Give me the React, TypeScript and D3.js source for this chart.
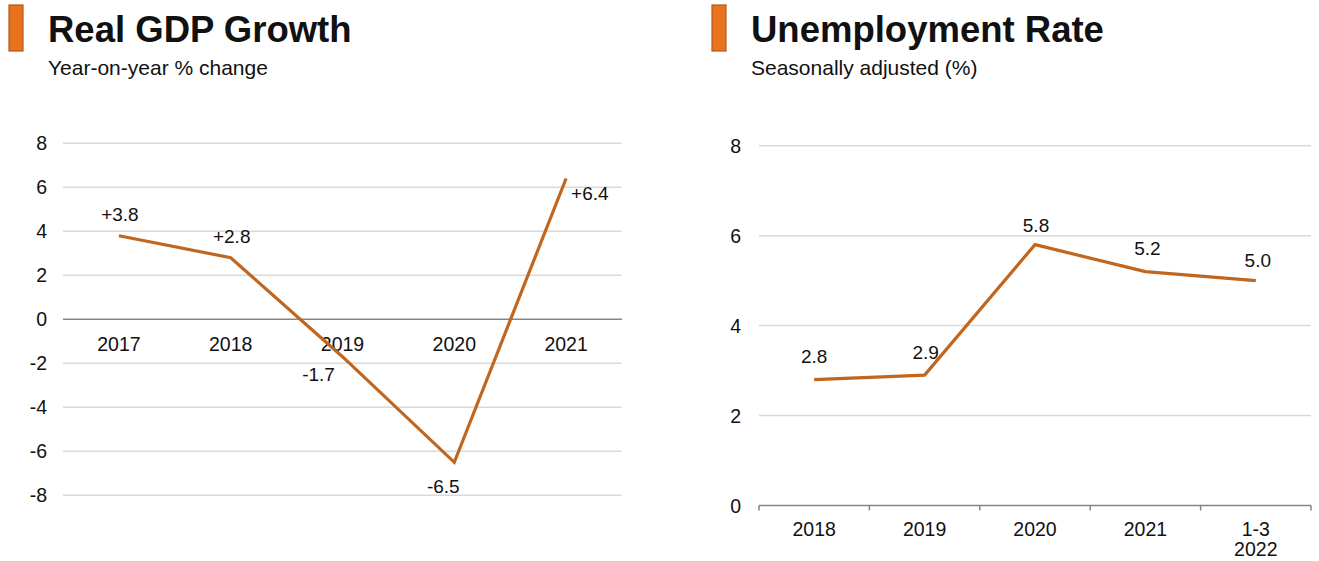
import React from "react";
import * as d3 from "d3";

// ---------- data ----------
const gdpYears = ["2017", "2018", "2019", "2020", "2021"];
const gdpValues = [3.8, 2.8, -1.7, -6.5, 6.4];
const gdpLabels = ["+3.8", "+2.8", "-1.7", "-6.5", "+6.4"];
const gdpTicks = [8, 6, 4, 2, 0, -2, -4, -6, -8];

const unempCats = [["2018"], ["2019"], ["2020"], ["2021"], ["1-3", "2022"]];
const unempValues = [2.8, 2.9, 5.8, 5.2, 5.0];
const unempLabels = ["2.8", "2.9", "5.8", "5.2", "5.0"];
const unempTicks = [8, 6, 4, 2, 0];

// label placement (style)
const gdpLabelPlace = [
  { dx: 1, dy: -15, anchor: "middle" },
  { dx: 1, dy: -15, anchor: "middle" },
  { dx: -24, dy: 24, anchor: "middle" },
  { dx: -11, dy: 31, anchor: "middle" },
  { dx: 5, dy: 21, anchor: "start" },
];
const unempLabelPlace = [
  { dx: 0, dy: -17 },
  { dx: 1, dy: -16 },
  { dx: 1, dy: -13 },
  { dx: 2, dy: -17 },
  { dx: 2, dy: -13.5 },
];

const FONT = "'Liberation Sans', Arial, Helvetica, sans-serif";
const LINE = "#c0661f";
const GRID = "#d9d9d9";
const AXIS = "#858585";

function Header({ x, title, sub }: { x: number; title: string; sub: string }) {
  return (
    <g>
      <rect x={x} y={5} width={14} height={46} fill="#e8731c" stroke="#b4581a" strokeWidth={1.2} />
      <text x={x + 39} y={42} fontFamily={FONT} fontWeight="bold" fontSize={36.5} fill="#111">
        {title}
      </text>
      <text x={x + 39} y={75} fontFamily={FONT} fontSize={21} fill="#111">
        {sub}
      </text>
    </g>
  );
}

export default function App() {
  // left chart
  const lx = d3.scaleBand<string>().domain(gdpYears).range([63, 622]);
  const ly = d3.scaleLinear().domain([-8, 8]).range([495.3, 143.3]);
  const lline = d3
    .line<number>()
    .x((_, i) => (lx(gdpYears[i]) as number) + lx.bandwidth() / 2)
    .y((d) => ly(d));

  // right chart
  const rKeys = unempCats.map((c) => c.join(" "));
  const rx = d3.scaleBand<string>().domain(rKeys).range([759, 1311]);
  const ry = d3.scaleLinear().domain([0, 8]).range([505.5, 145.7]);
  const rline = d3
    .line<number>()
    .x((_, i) => (rx(rKeys[i]) as number) + rx.bandwidth() / 2)
    .y((d) => ry(d));

  return (
    <svg
      width={1319}
      height={561}
      style={{ position: "absolute", left: 0, top: 0, background: "#fff" }}
      fontFamily={FONT}
    >
      <rect width={1319} height={561} fill="#fff" />
      <Header x={9} title="Real GDP Growth" sub="Year-on-year % change" />
      <Header x={712} title="Unemployment Rate" sub="Seasonally adjusted (%)" />

      {/* left chart */}
      {gdpTicks.map((t) => (
        <g key={"lg" + t}>
          <line
            x1={63}
            x2={622}
            y1={ly(t)}
            y2={ly(t)}
            stroke={t === 0 ? AXIS : GRID}
            strokeWidth={t === 0 ? 1.6 : 1.5}
          />
          <text x={47} y={ly(t) + 7} textAnchor="end" fontSize={19.5} fill="#111">
            {t}
          </text>
        </g>
      ))}
      {gdpYears.map((c) => (
        <text
          key={"lx" + c}
          x={(lx(c) as number) + lx.bandwidth() / 2}
          y={351}
          textAnchor="middle"
          fontSize={19.5}
          fill="#111"
        >
          {c}
        </text>
      ))}
      <path d={lline(gdpValues) || ""} fill="none" stroke={LINE} strokeWidth={3.2} strokeLinejoin="miter" />
      {gdpValues.map((v, i) => (
        <text
          key={"ll" + i}
          x={(lx(gdpYears[i]) as number) + lx.bandwidth() / 2 + gdpLabelPlace[i].dx}
          y={ly(v) + gdpLabelPlace[i].dy}
          textAnchor={gdpLabelPlace[i].anchor as any}
          fontSize={19}
          fill="#111"
        >
          {gdpLabels[i]}
        </text>
      ))}

      {/* right chart */}
      {unempTicks.map((t) => (
        <g key={"rg" + t}>
          {t !== 0 && (
            <line x1={759} x2={1311} y1={ry(t)} y2={ry(t)} stroke={GRID} strokeWidth={1.5} />
          )}
          <text x={741} y={ry(t) + 7} textAnchor="end" fontSize={19.5} fill="#111">
            {t}
          </text>
        </g>
      ))}
      <line x1={759} x2={1311} y1={ry(0)} y2={ry(0)} stroke={AXIS} strokeWidth={1.6} />
      {[...rKeys.map((k) => rx(k) as number), 1311].map((x, i) => (
        <line key={"rt" + i} x1={x} x2={x} y1={ry(0)} y2={ry(0) + 5} stroke={AXIS} strokeWidth={1.5} />
      ))}
      {unempCats.map((c, i) => (
        <text
          key={"rx" + i}
          x={(rx(rKeys[i]) as number) + rx.bandwidth() / 2}
          y={536}
          textAnchor="middle"
          fontSize={19.5}
          fill="#111"
        >
          {c.map((line, j) => (
            <tspan key={j} x={(rx(rKeys[i]) as number) + rx.bandwidth() / 2} dy={j === 0 ? 0 : 20}>
              {line}
            </tspan>
          ))}
        </text>
      ))}
      <path d={rline(unempValues) || ""} fill="none" stroke={LINE} strokeWidth={3.2} />
      {unempValues.map((v, i) => (
        <text
          key={"rl" + i}
          x={(rx(rKeys[i]) as number) + rx.bandwidth() / 2 + unempLabelPlace[i].dx}
          y={ry(v) + unempLabelPlace[i].dy}
          textAnchor="middle"
          fontSize={19}
          fill="#111"
        >
          {unempLabels[i]}
        </text>
      ))}
    </svg>
  );
}
